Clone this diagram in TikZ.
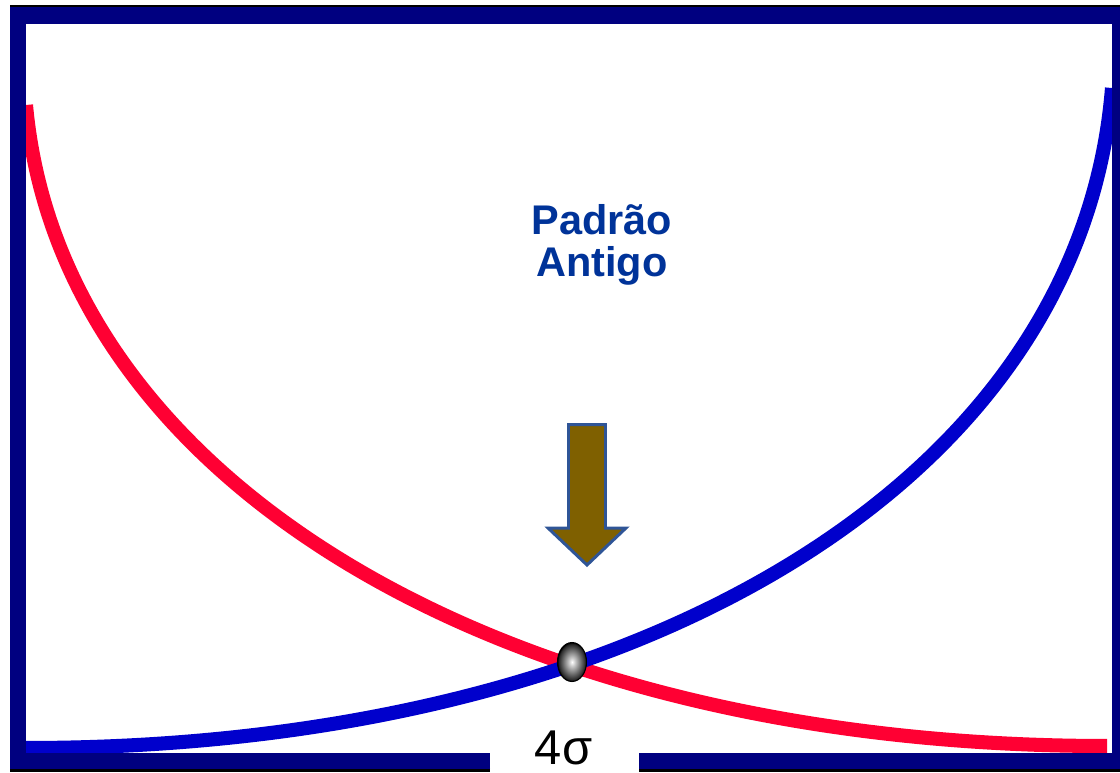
\documentclass[tikz,border=0pt]{standalone}
\usepackage{fontspec}
\setsansfont{Liberation Sans}
\usetikzlibrary{shapes.geometric}
\definecolor{framenavy}{RGB}{0,0,128}
\definecolor{curveblue}{RGB}{0,0,204}
\definecolor{curvered}{RGB}{255,0,51}
\definecolor{titleblue}{RGB}{0,51,153}
\definecolor{arrowfill}{RGB}{127,96,0}
\definecolor{arrowedge}{RGB}{47,85,151}
\pgfdeclareradialshading{pearl}{\pgfpoint{0bp}{0bp}}{color(0bp)=(white); color(5bp)=(black!20); color(16bp)=(black!60); color(23bp)=(black!85); color(25bp)=(black); color(50bp)=(black)}
\tikzset{
  frame/.style={
    draw=framenavy,
    line width=9.4pt,
    line join=miter
  },
  curve/.style={
    line width=8pt
  },
  crossball/.style={
    shape = ellipse,
    draw = black,
    line width=0.6pt,
    shading = pearl,
    inner sep = 0pt,
    minimum width=0.58cm,
    minimum height=0.78cm
  },
  title/.style={
    font=\sffamily\bfseries\fontsize{23.6}{23.8}\selectfont,
    text=titleblue,
    align=center,
    inner sep=0pt
  },
  every picture/.style = {
    x=0.02cm,
    y=-0.02cm
  }
}
\begin{document}
\begin{tikzpicture}
    \useasboundingbox[fill=white] (0,0) rectangle (1120,772);
    \coordinate (cross) at (572,662);
    \coordinate (redstart) at (26,105);
    \coordinate (redend) at (1107,746);
    \coordinate (bluestart) at (26,748);
    \coordinate (blueend) at (1112,88);
    % the two curves
    \draw[curve,curvered] (redstart) .. controls (60,480) and (500,746) .. (redend);
    \draw[curve,curveblue] (bluestart) .. controls (634,748) and (1080,485) .. (blueend);
    % frame with the gap
    \draw[frame] (490,761) -- (18,761) -- (18,15.5) -- (1120,15.5) -- (1120,761) -- (639,761);
    \draw[black,line width=1.1pt] (10,6) -- (1120,6);
    \foreach \a/\b in {10/490,639/1120}{
        \draw[black,line width=1.7pt] (\a,770.5) -- (\b,770.5);
    }
    % arrow
    \draw[arrowedge,fill=arrowfill,line width=1.7pt,line join=miter]
        (568.5,424.5) -- (605.5,424.5) -- (605.5,528) -- (626,528) -- (587,565)
        -- (548,528) -- (568.5,528) -- cycle;
    \node[crossball] (ball) at (cross) {};
    \node[title,anchor=base] (heading) at (602,276) {Padrão\\Antigo};
    \node[font=\sffamily\fontsize{27.8}{30}\selectfont,anchor=base,inner sep=0pt] (spread) at (563.5,764) {4σ};
\end{tikzpicture}
\end{document}
